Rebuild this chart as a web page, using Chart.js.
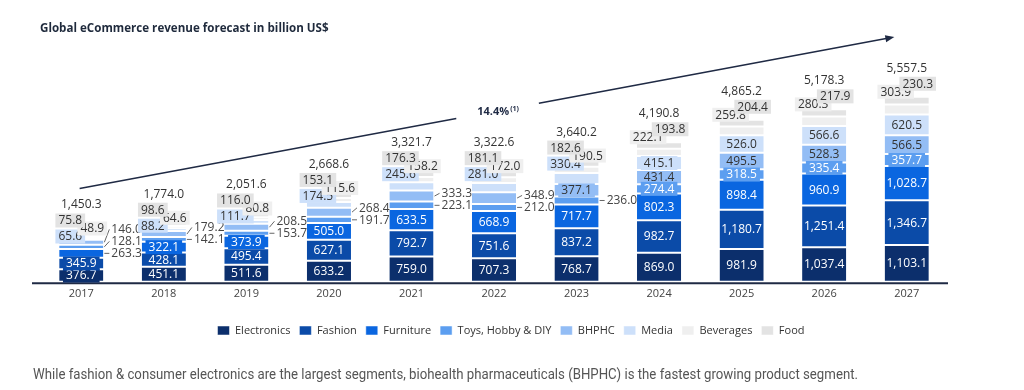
<!DOCTYPE html>
<html>
<head>
<meta charset="utf-8">
<script src="https://cdn.jsdelivr.net/npm/chart.js@4.4.1/dist/chart.umd.min.js"></script>
<style>
  html, body { margin: 0; padding: 0; background: #ffffff; }
  #wrap { position: relative; width: 1024px; height: 390px; overflow: hidden; }
  #chart { position: absolute; left: 0; top: 0; }
  #title { position: absolute; left: 40px; top: 20px; font: bold 11.6px "Open Sans", sans-serif; color: #1f2a3c; line-height: 16px; white-space: nowrap; }
  #note { position: absolute; left: 33px; top: 365px; font: 15px Roboto, sans-serif; color: #555; line-height: 18px; white-space: nowrap; transform-origin: 0 50%; }
</style>
</head>
<body>
<div id="wrap">
  <canvas id="chart" width="1024" height="390"></canvas>
  <div id="title">Global eCommerce revenue forecast in billion US$</div>
  <div id="note">While fashion &amp; consumer electronics are the largest segments, biohealth pharmaceuticals (BHPHC) is the fastest growing product segment.</div>
</div>
<script>
// ---- data (billion US$) ----
const years = ['2017','2018','2019','2020','2021','2022','2023','2024','2025','2026','2027'];
const electronics = [376.7, 451.1, 511.6, 633.2, 759.0, 707.3, 768.7, 869.0, 981.9, 1037.4, 1103.1];
const fashion     = [345.9, 428.1, 495.4, 627.1, 792.7, 751.6, 837.2, 982.7, 1180.7, 1251.4, 1346.7];
const furniture   = [263.3, 322.1, 373.9, 505.0, 633.5, 668.9, 717.7, 802.3, 898.4, 960.9, 1028.7];
const toys        = [128.1, 142.1, 153.7, 191.7, 223.1, 212.0, 236.0, 274.4, 318.5, 335.4, 357.7];
const bhphc       = [146.0, 179.2, 208.5, 268.4, 333.3, 348.9, 377.1, 431.4, 495.5, 528.3, 566.5];
const media       = [65.6, 88.2, 111.7, 174.5, 245.6, 281.0, 330.4, 415.1, 526.0, 566.6, 620.5];
const beverages   = [48.9, 64.6, 80.8, 115.6, 158.2, 172.0, 190.5, 222.1, 259.8, 280.3, 303.9];
const food        = [75.8, 98.6, 116.0, 153.1, 176.3, 181.1, 182.6, 193.8, 204.4, 217.9, 230.3];
const totals      = [1450.3, 1774.0, 2051.6, 2668.6, 3321.7, 3322.6, 3640.2, 4190.8, 4865.2, 5178.3, 5557.5];
const seriesNames = ['Electronics','Fashion','Furniture','Toys, Hobby & DIY','BHPHC','Media','Beverages','Food'];
const cagrText = '14.4%';
const cagrNote = '(1)';
// CAGR arrow expressed in category index / value units
const arrowFrom = { idx: -0.02, val: 2800 };
const arrowTo   = { idx: 9.85,  val: 7350 };

const colors = ['#0c2f6c', '#0b4ba8', '#0a66e0', '#5c9ef0', '#93bdf5', '#cde0fa', '#efefef', '#e3e3e3'];
const textOnBar = ['#ffffff', '#ffffff', '#ffffff', '#ffffff', '#333333', '#333333', '#333333', '#333333'];
const seriesData = [electronics, fashion, furniture, toys, bhphc, media, beverages, food];

const fmt = v => v.toLocaleString('en-US', { minimumFractionDigits: 1, maximumFractionDigits: 1 });
const LABEL_FONT = '12px "Open Sans", sans-serif';
// minimum segment height for an inside label: white text may overflow onto a box, dark text needs room
const minInside = k => (textOnBar[k] === '#ffffff' ? 9 : 12);

// fit footnote to reference width
(function () {
  const note = document.getElementById('note');
  const w = note.getBoundingClientRect().width;
  if (w > 0) note.style.transform = 'scaleX(' + (825 / w) + ')';
})();

function drawBoxLabel(ctx, text, x, y, bg, fg, align) {
  const w = ctx.measureText(text).width;
  let left = align === 'left' ? x : x - w / 2;
  if (bg) {
    ctx.fillStyle = bg;
    ctx.fillRect(left - 3, y - 7, w + 6, 14);
  }
  ctx.fillStyle = fg;
  ctx.textAlign = 'left';
  ctx.fillText(text, left, y + 0.5);
}

const segLabels = {
  id: 'segLabels',
  afterLayout(chart) {
    if (chart.legend) { chart.legend.left += 17; chart.legend.right += 17; }
  },
  beforeDatasetsDraw(chart) {
    const ctx = chart.ctx, a = chart.chartArea, y0 = chart.scales.y.getPixelForValue(0);
    ctx.save();
    ctx.strokeStyle = '#1f2a44';
    ctx.lineWidth = 2;
    ctx.beginPath();
    ctx.moveTo(a.left - 8, y0 + 1.5);
    ctx.lineTo(a.right, y0 + 1.5);
    ctx.stroke();
    ctx.restore();
  },
  afterDatasetsDraw(chart) {
    const ctx = chart.ctx;
    const n = chart.data.labels.length;
    const nd = chart.data.datasets.length;
    ctx.save();
    ctx.font = LABEL_FONT;
    ctx.textBaseline = 'middle';
    for (let i = 0; i < n; i++) {
      const segs = [];
      for (let d = 0; d < nd; d++) {
        const el = chart.getDatasetMeta(d).data[i];
        const top = Math.min(el.y, el.base), bot = Math.max(el.y, el.base);
        segs.push({ d, x: el.x, w: el.width, top, bot, h: bot - top, v: chart.data.datasets[d].data[i] });
      }
      const cx = segs[0].x, half = segs[0].w / 2;
      const barTop = segs[nd - 1].top;
      let firstTop = nd;
      for (let k = nd - 1; k >= 5; k--) { if (segs[k].h < minInside(k)) firstTop = k; else break; }
      let lastRightY = Infinity;
      for (let k = 0; k < firstTop; k++) {
        const s = segs[k];
        const cy = (s.top + s.bot) / 2;
        const txt = fmt(s.v);
        if (s.h >= minInside(k)) {
          drawBoxLabel(ctx, txt, s.x, cy, s.h < 14 ? colors[k] : null, textOnBar[k], 'center');
        } else {
          const ly = Math.min(cy, lastRightY - 12);
          lastRightY = ly;
          ctx.strokeStyle = '#666';
          ctx.lineWidth = 1;
          ctx.beginPath();
          ctx.moveTo(s.x + half + 1, cy);
          ctx.lineTo(s.x + half + 6, ly);
          ctx.stroke();
          drawBoxLabel(ctx, txt, s.x + half + 8, ly, null, '#444', 'left');
        }
      }
      const groupSize = nd - firstTop;
      const start = barTop - 5 + (groupSize >= 3 ? 8 : 0);
      let lastY = null, j = 0;
      for (let k = firstTop; k < nd; k++, j++) {
        const y = start - 8 * j;
        const x = cx + (j % 2 === 0 ? -11 : 11);
        drawBoxLabel(ctx, fmt(segs[k].v), x, y, colors[k], '#333', 'center');
        lastY = y;
      }
      const ty = lastY === null ? barTop - 10 : lastY - 16;
      drawBoxLabel(ctx, fmt(totals[i]), cx, ty, null, '#333', 'center');
    }
    // CAGR arrow
    const xs = chart.scales.x, ys = chart.scales.y;
    const xAt = idx => xs.getPixelForValue(0) + idx * (xs.getPixelForValue(1) - xs.getPixelForValue(0));
    const x1 = xAt(arrowFrom.idx), y1 = ys.getPixelForValue(arrowFrom.val);
    const x2 = xAt(arrowTo.idx), y2 = ys.getPixelForValue(arrowTo.val);
    const pt = t => [x1 + (x2 - x1) * t, y1 + (y2 - y1) * t];
    const len = Math.hypot(x2 - x1, y2 - y1);
    const tc = 0.513, gap = 42 / len;
    ctx.strokeStyle = '#1f2a44';
    ctx.lineWidth = 1.5;
    const p = pt(tc - gap), q = pt(tc + gap), e = pt(1 - 7 / len);
    ctx.beginPath();
    ctx.moveTo(x1, y1); ctx.lineTo(p[0], p[1]);
    ctx.moveTo(q[0], q[1]); ctx.lineTo(e[0], e[1]);
    ctx.stroke();
    const ang = Math.atan2(y2 - y1, x2 - x1);
    ctx.fillStyle = '#1f2a44';
    ctx.beginPath();
    ctx.moveTo(x2, y2);
    ctx.lineTo(x2 - 9 * Math.cos(ang) + 3.5 * Math.sin(ang), y2 - 9 * Math.sin(ang) - 3.5 * Math.cos(ang));
    ctx.lineTo(x2 - 9 * Math.cos(ang) - 3.5 * Math.sin(ang), y2 - 9 * Math.sin(ang) + 3.5 * Math.cos(ang));
    ctx.closePath();
    ctx.fill();
    const c = pt(tc);
    ctx.font = 'bold 11px "Open Sans", sans-serif';
    const w1 = ctx.measureText(cagrText).width;
    ctx.font = 'bold 7px "Open Sans", sans-serif';
    const w2 = ctx.measureText(cagrNote).width;
    const lx = c[0] - (w1 + w2) / 2;
    ctx.fillStyle = '#1f2a44';
    ctx.textAlign = 'left';
    ctx.font = 'bold 11px "Open Sans", sans-serif';
    ctx.fillText(cagrText, lx, c[1] + 1);
    ctx.font = 'bold 7px "Open Sans", sans-serif';
    ctx.fillText(cagrNote, lx + w1 + 1, c[1] - 2);
    ctx.restore();
  }
};

const datasets = seriesData.map((arr, k) => ({
  label: seriesNames[k],
  data: arr,
  backgroundColor: colors[k],
  borderColor: '#ffffff',
  borderWidth: { top: 1, bottom: 1, left: 0, right: 0 },
  borderSkipped: false,
  categoryPercentage: 1.0,
  barPercentage: 0.535
}));

new Chart(document.getElementById('chart'), {
  type: 'bar',
  data: { labels: years, datasets },
  options: {
    responsive: false,
    animation: false,
    layout: { padding: { left: 40, right: 76, top: 82, bottom: 44 } },
    scales: {
      x: {
        stacked: true,
        grid: { display: false, drawTicks: false },
        border: { display: false },
        ticks: { color: '#444', font: { family: 'Open Sans', size: 11 }, padding: 5 },
        afterFit(scale) { scale.height += 11; }
      },
      y: {
        stacked: true,
        display: false,
        min: 0,
        max: 6000
      }
    },
    plugins: {
      legend: {
        position: 'bottom',
        labels: {
          boxWidth: 12, boxHeight: 9, padding: 9,
          color: '#333', font: { family: 'Open Sans', size: 11 }
        }
      },
      tooltip: { enabled: false }
    }
  },
  plugins: [segLabels]
});
</script>
</body>
</html>
